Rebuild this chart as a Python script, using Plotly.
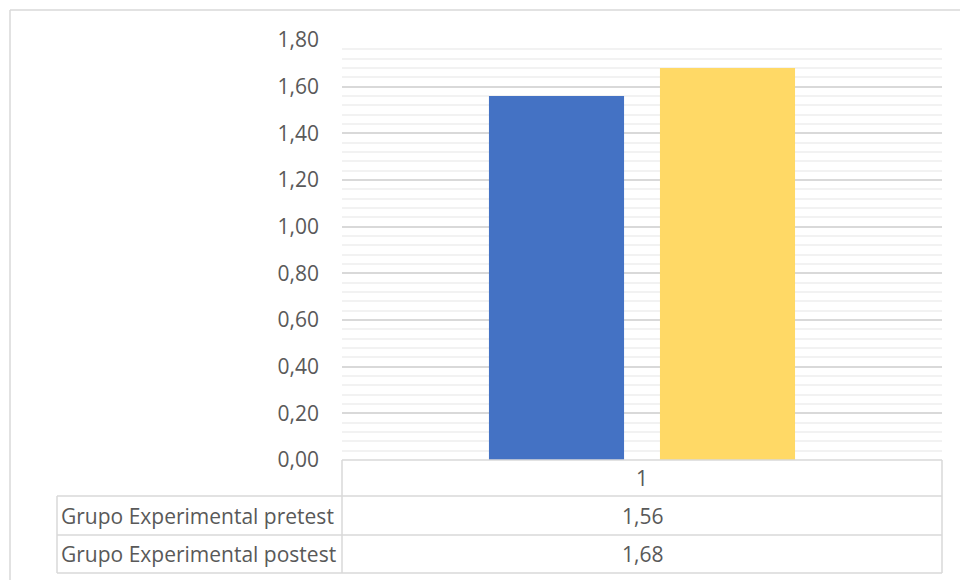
import plotly.graph_objects as go

# Data
categories = ["1"]
series_names = ["Grupo Experimental pretest", "Grupo Experimental postest"]
series_values = [[1.56], [1.68]]
series_colors = ["#4472C4", "#FFD966"]
y_ticks = [0.0, 0.2, 0.4, 0.6, 0.8, 1.0, 1.2, 1.4, 1.6, 1.8]

W, H = 960, 580
L, R, T, B = 342, 18, 40, 120  # plot area: x 342..942, y 40..460
PW, PH = W - L - R, H - T - B
GRID = "#d9d9d9"
TEXT = "#595959"
FONT = "Open Sans"
FS = 21


def px_x(x):
    return (x - L) / PW


def px_y(y):
    return (H - B - y) / PH


def fmt(v):
    return f"{v:.2f}".replace(".", ",")


fig = go.Figure()
for name, vals, col in zip(series_names, series_values, series_colors):
    fig.add_trace(go.Bar(x=categories, y=vals, name=name,
                         marker=dict(color=col, line=dict(width=0))))

shapes = []


def line(x0, y0, x1, y1, color=GRID, width=1.5):
    shapes.append(dict(type="line", xref="paper", yref="paper",
                       x0=px_x(x0), y0=px_y(y0), x1=px_x(x1), y1=px_y(y1),
                       line=dict(color=color, width=width), layer="above"))


# Outer chart border (top and left)
line(10, 10, 960, 10)
line(10, 10, 10, 580)

# Data table grid
row_y = [460, 496, 535, 573]
line(342, 460, 942, 460)
for yy in row_y[1:]:
    line(57, yy, 942, yy)
line(57, 496, 57, 573)
line(342, 460, 342, 573)
line(942, 460, 942, 573)

annotations = []
# Category header row
annotations.append(dict(xref="paper", yref="paper", x=px_x(642), y=px_y((row_y[0] + row_y[1]) / 2),
                        text=categories[0], showarrow=False, xanchor="center", yanchor="middle",
                        font=dict(family=FONT, size=FS, color=TEXT)))
for i, (name, vals) in enumerate(zip(series_names, series_values)):
    cy = (row_y[i + 1] + row_y[i + 2]) / 2
    annotations.append(dict(xref="paper", yref="paper", x=px_x(59), y=px_y(cy),
                            text=name, showarrow=False, xanchor="left", yanchor="middle",
                            font=dict(family=FONT, size=FS, color=TEXT)))
    annotations.append(dict(xref="paper", yref="paper", x=px_x(642), y=px_y(cy),
                            text=fmt(vals[0]), showarrow=False, xanchor="center", yanchor="middle",
                            font=dict(family=FONT, size=FS, color=TEXT)))

fig.update_layout(
    width=W, height=H,
    margin=dict(l=L, r=R, t=T, b=B, pad=0),
    paper_bgcolor="white", plot_bgcolor="white",
    separators=",.",
    barmode="group", bargap=0.43, bargroupgap=0.21,
    showlegend=False,
    shapes=shapes, annotations=annotations,
    xaxis=dict(showticklabels=False, showgrid=False, zeroline=False, showline=False, ticks=""),
    yaxis=dict(range=[0, 1.8], tickvals=y_ticks, tickformat=".2f",
               showgrid=True, gridcolor=GRID, gridwidth=1.5,
               zeroline=False, showline=False, ticks="",
               ticklabelstandoff=22,
               tickfont=dict(family=FONT, size=FS, color=TEXT),
               minor=dict(dtick=0.04, tick0=0, showgrid=True, gridcolor="#f2f2f2", gridwidth=1.5)),
)

fig.write_html("out.html")
